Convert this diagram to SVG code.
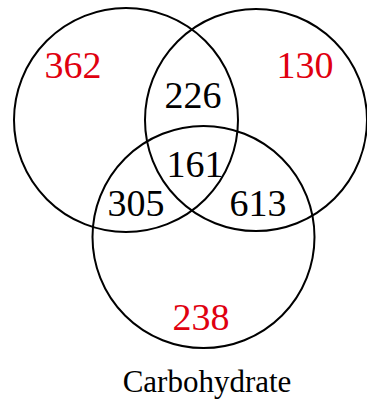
<svg xmlns="http://www.w3.org/2000/svg" width="367" height="402" viewBox="0 0 367 402">
<style>
.c{fill:none;stroke:#000;stroke-width:2}
.t{font-family:"Liberation Serif","Times New Roman",serif;font-size:38px;text-anchor:middle;fill:#000}
.r{fill:#e0000f}
</style>
<rect width="367" height="402" fill="#fff"/>
<g id="circle-left"><circle class="c" cx="126" cy="120" r="112"/></g>
<g id="circle-right"><circle class="c" cx="256" cy="120" r="111"/></g>
<g id="circle-bottom"><circle class="c" cx="203.5" cy="237" r="111"/></g>
<g id="labels">
<text class="t r" x="73" y="78">362</text>
<text class="t r" x="305" y="78">130</text>
<text class="t" x="193" y="108">226</text>
<text class="t" x="195" y="177">161</text>
<text class="t" x="136" y="216">305</text>
<text class="t" x="258" y="216">613</text>
<text class="t r" x="201" y="330">238</text>
<text class="t" x="207" y="392" style="font-size:31px">Carbohydrate</text>
</g>
</svg>
